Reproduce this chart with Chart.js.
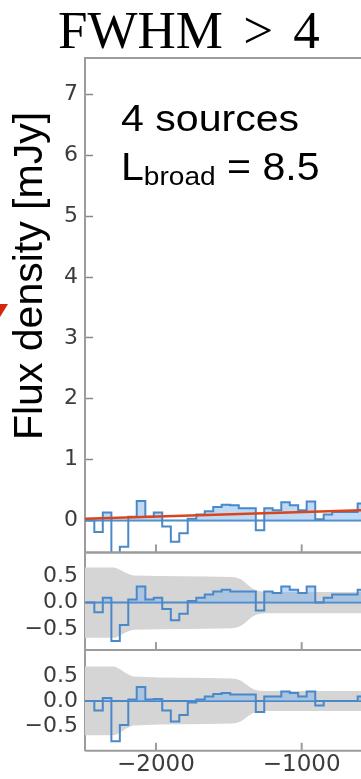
<!DOCTYPE html>
<html>
<head>
<meta charset="utf-8">
<script src="https://cdn.jsdelivr.net/npm/chart.js@4.4.1/dist/chart.umd.min.js"></script>
<style>
  body { margin: 0; background: #fff; }
  #wrap { position: relative; width: 361px; height: 779px; overflow: hidden; }
  #chart { position: absolute; left: 0; top: 0; }
  .lbl { position: absolute; white-space: nowrap; color: #000; font-family: "Liberation Sans", Arial, sans-serif; }
  #title { left: 58px; top: 4px; font-family: "Liberation Serif", serif; font-size: 53px; line-height: 53px; word-spacing: 7px; }
  #ytitle { left: 28px; top: 276px; font-size: 41px; line-height: 41px; transform: translate(-50%, -50%) rotate(-90deg); }
  #note1 { left: 121px; top: 100px; font-size: 37px; line-height: 37px; transform: scaleX(1.11); transform-origin: left center; }
  #note2 { left: 121px; top: 148px; font-size: 38px; line-height: 38px; transform: scaleX(1.08); transform-origin: left center; }
  #note2 sub { font-size: 26px; vertical-align: -5px; line-height: 0; }
  #arrow { position: absolute; left: 0; top: 304px; width: 0; height: 0; border-top: 13px solid #d3280c; border-right: 8px solid transparent; }
</style>
</head>
<body>
<div id="wrap">
  <canvas id="chart" width="361" height="779"></canvas>
  <div class="lbl" id="title">FWHM &gt; 4</div>
  <div class="lbl" id="ytitle">Flux density [mJy]</div>
  <div class="lbl" id="note1">4 sources</div>
  <div class="lbl" id="note2">L<sub>broad</sub> = 8.5</div>
  <div id="arrow"></div>
</div>
<script>
// channel edges [km/s], the last one closes the final channel
var velocity = [-2481, -2423, -2365, -2306, -2248, -2190, -2132, -2073, -2015, -1957, -1898, -1840, -1782, -1723, -1665, -1607, -1549,
  -1490, -1432, -1374, -1315, -1257, -1199, -1140, -1082, -1024, -966, -907, -849, -791, -732, -674, -616, -557];

// stacked spectrum [mJy]
var flux = [0.0, -0.19, 0.13, -0.68, -0.43, 0.06, 0.32, 0.06, 0.13, -0.10, -0.35, -0.21, 0.03, 0.10, 0.15, 0.22, 0.26,
  0.25, 0.20, 0.20, -0.16, 0.20, 0.17, 0.30, 0.25, 0.17, 0.31, 0.02, 0.10, 0.14, 0.14, 0.14, 0.28];

// residuals, continuum only / continuum + broad
var resid1 = [0.0, -0.18, 0.09, -0.72, -0.42, 0.06, 0.30, 0.06, 0.09, -0.12, -0.33, -0.21, 0.03, 0.09, 0.15, 0.21, 0.24,
  0.21, 0.21, 0.21, -0.15, 0.21, 0.18, 0.30, 0.24, 0.18, 0.30, 0.0, 0.09, 0.15, 0.15, 0.15, 0.24];
var resid2 = [0.0, -0.19, 0.06, -0.81, -0.48, 0.03, 0.28, 0.03, 0.04, -0.19, -0.41, -0.28, -0.03, 0.03, 0.09, 0.14, 0.16,
  0.13, 0.13, 0.13, -0.22, 0.09, 0.09, 0.19, 0.16, 0.09, 0.19, -0.09, 0.0, 0.0, 0.0, 0.0, 0.09];

// continuum model
var modelVelocity = [-2487, -593];
var modelFlux = [0.03, 0.17];

// 1 sigma band of the residuals (half width)
var bandVelocity = [-2487, -2290, -2250, -2200, -2150, -1480, -1420, -1380, -1340, -1300, -1250, -593];
var band1 = [0.66, 0.66, 0.62, 0.55, 0.51, 0.48, 0.44, 0.36, 0.27, 0.22, 0.20, 0.20];
var band2 = [0.69, 0.69, 0.64, 0.55, 0.49, 0.45, 0.41, 0.33, 0.25, 0.21, 0.20, 0.20];

// tick positions
var xTicks = [-2000, -1000];
var fluxTicks = [0, 1, 2, 3, 4, 5, 6, 7];
var residTicks = [-0.5, 0, 0.5];

var blue = '#4a88c9';
var lightBlue = 'rgba(130, 182, 235, 0.5)';
var axisColor = '#9c9c9c';

function steps(values) {
  return velocity.map(function (v, i) { return {x: v, y: values[Math.min(i, values.length - 1)]}; });
}
function pairs(xs, ys, sign) {
  return xs.map(function (v, i) { return {x: v, y: sign * ys[i]}; });
}
function fixedTicks(list) {
  return function (scale) { scale.ticks = list.map(function (v) { return {value: v}; }); };
}

function stepSet(values, axis) {
  return {
    data: steps(values), yAxisID: axis, stepped: 'before', borderColor: blue, borderWidth: 2,
    pointRadius: 0, order: 1,
    fill: {target: {value: 0}, above: lightBlue, below: 'rgba(0,0,0,0)'}
  };
}
function zeroSet(axis) {
  return {data: pairs(modelVelocity, [0, 0], 1), yAxisID: axis, borderColor: blue, borderWidth: 2, pointRadius: 0, order: 2};
}
function bandSets(band, axis) {
  return [
    {data: pairs(bandVelocity, band, 1), yAxisID: axis, borderWidth: 0, pointRadius: 0, fill: '+1',
      backgroundColor: '#d5d5d5', cubicInterpolationMode: 'monotone', order: 3},
    {data: pairs(bandVelocity, band, -1), yAxisID: axis, borderWidth: 0, pointRadius: 0, fill: false,
      cubicInterpolationMode: 'monotone', order: 3}
  ];
}

var tickFont = {family: 'DejaVu Sans', size: 22};

function yScale(min, max, list, weight, fmt) {
  return {
    type: 'linear', position: 'left', stack: 'panels', stackWeight: weight,
    min: min, max: max,
    border: {color: axisColor, width: 2},
    grid: {drawOnChartArea: false, tickLength: -8, tickColor: '#888', tickWidth: 1.5},
    ticks: {autoSkip: false, padding: 15, color: '#3c3c3c', font: tickFont, callback: fmt},
    afterBuildTicks: fixedTicks(list),
    afterFit: function (scale) { scale.width = 85; }
  };
}

function resFmt(v) {
  return (v < 0 ? '\u2212' : '') + Math.abs(v).toFixed(1);
}

// frame lines between the panels, inward x ticks, and per-panel clipping
var panelFrames = {
  id: 'panelFrames',
  beforeDatasetDraw: function (chart, args) {
    var m = args.meta;
    chart.ctx.save();
    chart.ctx.beginPath();
    chart.ctx.rect(m.xScale.left, m.yScale.top, m.xScale.width, m.yScale.height);
    chart.ctx.clip();
  },
  afterDatasetDraw: function (chart) {
    chart.ctx.restore();
  },
  afterDatasetsDraw: function (chart) {
    var ctx = chart.ctx, x = chart.scales.x, area = chart.chartArea;
    ctx.save();
    ctx.strokeStyle = axisColor;
    ctx.lineWidth = 2;
    ['y', 'r1', 'r2'].forEach(function (id) {
      var s = chart.scales[id];
      [s.top, s.bottom].forEach(function (py) {
        ctx.beginPath(); ctx.moveTo(area.left, py); ctx.lineTo(area.right, py); ctx.stroke();
      });
      x.ticks.forEach(function (t) {
        var px = x.getPixelForValue(t.value);
        ctx.beginPath(); ctx.moveTo(px, s.bottom); ctx.lineTo(px, s.bottom - 8); ctx.stroke();
      });
    });
    ctx.restore();
  }
};

var ctx = document.getElementById('chart').getContext('2d');

var config = {
  type: 'line',
  data: {
    datasets: [
      {data: pairs(modelVelocity, modelFlux, 1), yAxisID: 'y', borderColor: '#d9461c', borderWidth: 2.5, pointRadius: 0, order: 0},
      stepSet(flux, 'y'),
      zeroSet('y'),
      stepSet(resid1, 'r1'),
      zeroSet('r1')
    ].concat(bandSets(band1, 'r1'), [stepSet(resid2, 'r2'), zeroSet('r2')], bandSets(band2, 'r2'))
  },
  options: {
    responsive: false,
    animation: false,
    layout: {autoPadding: false, padding: {top: 58, left: 0, right: 0, bottom: 0}},
    plugins: {legend: {display: false}, tooltip: {enabled: false}},
    scales: {
      x: {
        type: 'linear', position: 'bottom', min: -2487, max: -593,
        border: {display: false},
        grid: {display: false, drawTicks: false},
        ticks: {
          autoSkip: false, padding: 0, color: '#3c3c3c', maxRotation: 0,
          font: {family: 'DejaVu Sans', size: 23},
          callback: function (v) { return v < 0 ? '\u2212' + Math.abs(v) : String(v); }
        },
        afterBuildTicks: fixedTicks(xTicks),
        afterFit: function (scale) { scale.height = 26; }
      },
      r2: yScale(-1.0, 1.02, residTicks, 101, resFmt),
      r1: yScale(-0.89, 0.94, residTicks, 98, resFmt),
      y: yScale(-0.525, 7.6, fluxTicks, 496, function (v) { return String(v); })
    }
  },
  plugins: [panelFrames]
};

var chart = new Chart(ctx, config);
</script>
</body>
</html>
